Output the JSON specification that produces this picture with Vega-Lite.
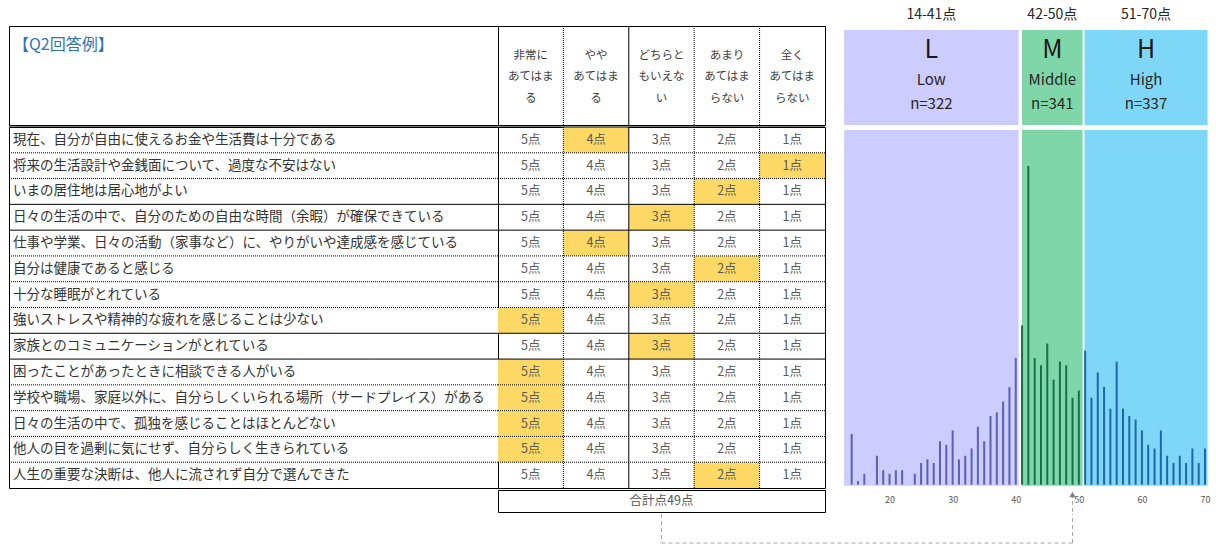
{
  "$schema": "https://vega.github.io/schema/vega-lite/v6.json",
  "description": "Q2 answer example table with the score distribution of all respondents (L / M / H groups).",
  "padding": {"left": 8, "top": 8, "right": 0, "bottom": 0},
  "spacing": 0,
  "config": {"view": {"stroke": null}, "font": "Noto Sans CJK JP"},
  "datasets": {
    "questions": [
      {"q": 1, "section": 1, "answer": 4, "text": "現在、自分が自由に使えるお金や生活費は十分である"},
      {"q": 2, "section": 1, "answer": 1, "text": "将来の生活設計や金銭面について、過度な不安はない"},
      {"q": 3, "section": 1, "answer": 2, "text": "いまの居住地は居心地がよい"},
      {"q": 4, "section": 2, "answer": 3, "text": "日々の生活の中で、自分のための自由な時間（余暇）が確保できている"},
      {"q": 5, "section": 3, "answer": 4, "text": "仕事や学業、日々の活動（家事など）に、やりがいや達成感を感じている"},
      {"q": 6, "section": 3, "answer": 2, "text": "自分は健康であると感じる"},
      {"q": 7, "section": 3, "answer": 3, "text": "十分な睡眠がとれている"},
      {"q": 8, "section": 3, "answer": 5, "text": "強いストレスや精神的な疲れを感じることは少ない"},
      {"q": 9, "section": 4, "answer": 3, "text": "家族とのコミュニケーションがとれている"},
      {"q": 10, "section": 5, "answer": 5, "text": "困ったことがあったときに相談できる人がいる"},
      {"q": 11, "section": 5, "answer": 5, "text": "学校や職場、家庭以外に、自分らしくいられる場所（サードプレイス）がある"},
      {"q": 12, "section": 5, "answer": 5, "text": "日々の生活の中で、孤独を感じることはほとんどない"},
      {"q": 13, "section": 5, "answer": 5, "text": "他人の目を過剰に気にせず、自分らしく生きられている"},
      {"q": 14, "section": 5, "answer": 2, "text": "人生の重要な決断は、他人に流されず自分で選んできた"}
    ],
    "choices": [
      {"s": 5, "label": "非常に\nあてはま\nる"},
      {"s": 4, "label": "やや\nあてはま\nる"},
      {"s": 3, "label": "どちらと\nもいえな\nい"},
      {"s": 2, "label": "あまり\nあてはま\nらない"},
      {"s": 1, "label": "全く\nあてはま\nらない"}
    ],
    "groups": [
      {"group": "L", "name": "Low", "range": "14-41点", "n": 322, "from": 12.8, "to": 40.45},
      {"group": "M", "name": "Middle", "range": "42-50点", "n": 341, "from": 41.0, "to": 50.6},
      {"group": "H", "name": "High", "range": "51-70点", "n": 337, "from": 50.9, "to": 70.4}
    ],
    "scores": [
      {"score": 14, "count": 14}, {"score": 15, "count": 1}, {"score": 16, "count": 3}, {"score": 17, "count": 0},
      {"score": 18, "count": 8}, {"score": 19, "count": 4}, {"score": 20, "count": 3}, {"score": 21, "count": 4},
      {"score": 22, "count": 4}, {"score": 23, "count": 0}, {"score": 24, "count": 3}, {"score": 25, "count": 6},
      {"score": 26, "count": 7}, {"score": 27, "count": 6}, {"score": 28, "count": 12}, {"score": 29, "count": 11},
      {"score": 30, "count": 15}, {"score": 31, "count": 7}, {"score": 32, "count": 8}, {"score": 33, "count": 10},
      {"score": 34, "count": 16}, {"score": 35, "count": 12}, {"score": 36, "count": 19}, {"score": 37, "count": 20},
      {"score": 38, "count": 23}, {"score": 39, "count": 27}, {"score": 40, "count": 35}, {"score": 41, "count": 44},
      {"score": 42, "count": 88}, {"score": 43, "count": 35}, {"score": 44, "count": 33}, {"score": 45, "count": 39},
      {"score": 46, "count": 29}, {"score": 47, "count": 34}, {"score": 48, "count": 33}, {"score": 49, "count": 24},
      {"score": 50, "count": 26}, {"score": 51, "count": 37}, {"score": 52, "count": 24}, {"score": 53, "count": 31},
      {"score": 54, "count": 27}, {"score": 55, "count": 21}, {"score": 56, "count": 34}, {"score": 57, "count": 21},
      {"score": 58, "count": 19}, {"score": 59, "count": 18}, {"score": 60, "count": 15}, {"score": 61, "count": 11},
      {"score": 62, "count": 10}, {"score": 63, "count": 15}, {"score": 64, "count": 8}, {"score": 65, "count": 6},
      {"score": 66, "count": 8}, {"score": 67, "count": 6}, {"score": 68, "count": 10}, {"score": 69, "count": 6},
      {"score": 70, "count": 10}
    ]
  },
  "vconcat": [
    {
      "spacing": 0,
      "bounds": "flush",
      "hconcat": [
        {
          "width": 489,
          "height": 99,
          "view": {"stroke": "#000000", "strokeWidth": 1},
          "data": {"values": [{"caption": "【Q2回答例】"}]},
          "mark": {"type": "text", "align": "left", "baseline": "middle", "dx": 4, "fontSize": 16, "color": "#2E75B6"},
          "encoding": {
            "x": {"datum": 0, "type": "quantitative", "scale": {"domain": [0, 1], "nice": false, "zero": false}, "axis": null},
            "y": {"datum": 0.808, "type": "quantitative", "scale": {"domain": [0, 1], "nice": false, "zero": false}, "axis": null},
            "text": {"field": "caption"}
          }
        },
        {
          "width": 327,
          "height": 99,
          "view": {"stroke": "#000000", "strokeWidth": 1},
          "data": {"name": "choices"},
          "layer": [
            {
              "transform": [{"filter": "datum.s < 5"}],
              "mark": {"type": "rule", "color": "#000000", "strokeWidth": 1},
              "encoding": {
                "x": {"field": "s", "type": "ordinal", "bandPosition": 0, "scale": {"type": "band", "domain": [5, 4, 3, 2, 1], "paddingInner": 0, "paddingOuter": 0}, "axis": null},
                "strokeDash": {"condition": {"test": "datum.s === 3", "value": [1, 0]}, "value": [1, 1]}
              }
            },
            {
              "mark": {"type": "text", "baseline": "middle", "fontSize": 11.5, "lineHeight": 21.7, "lineBreak": "\n", "color": "#404040"},
              "encoding": {
                "x": {"field": "s", "type": "ordinal", "scale": {"type": "band", "domain": [5, 4, 3, 2, 1], "paddingInner": 0, "paddingOuter": 0}, "axis": null},
                "y": {"datum": 0.702, "type": "quantitative", "scale": {"domain": [0, 1], "nice": false, "zero": false}, "axis": null},
                "text": {"field": "label"}
              }
            }
          ]
        },
        {
          "width": 392,
          "height": 99,
          "data": {"name": "groups"},
          "transform": [
            {"calculate": "(datum.from + datum.to) / 2", "as": "mid"},
            {"calculate": "'n=' + datum.n", "as": "nLabel"}
          ],
          "layer": [
            {
              "mark": {"type": "rect"},
              "encoding": {
                "x": {"field": "from", "type": "quantitative", "scale": {"domain": [9.77, 71.9], "nice": false, "zero": false}, "axis": null},
                "x2": {"field": "to"},
                "y": {"datum": 0, "type": "quantitative", "scale": {"domain": [0, 1], "nice": false, "zero": false}, "axis": null},
                "y2": {"datum": 0.96},
                "color": {"field": "group", "type": "nominal", "scale": {"domain": ["L", "M", "H"], "range": ["#CCCCFF", "#7FD6A8", "#7FD7F7"]}, "legend": null}
              }
            },
            {
              "mark": {"type": "text", "baseline": "middle", "fontSize": 25, "color": "#1A1A1A"},
              "encoding": {
                "x": {"field": "mid", "type": "quantitative", "scale": {"domain": [9.77, 71.9], "nice": false, "zero": false}, "axis": null},
                "y": {"datum": 0.758, "type": "quantitative", "scale": {"domain": [0, 1], "nice": false, "zero": false}, "axis": null},
                "text": {"field": "group"}
              }
            },
            {
              "mark": {"type": "text", "baseline": "middle", "fontSize": 15, "color": "#262626"},
              "encoding": {
                "x": {"field": "mid", "type": "quantitative", "scale": {"domain": [9.77, 71.9], "nice": false, "zero": false}, "axis": null},
                "y": {"datum": 0.455, "type": "quantitative", "scale": {"domain": [0, 1], "nice": false, "zero": false}, "axis": null},
                "text": {"field": "name"}
              }
            },
            {
              "mark": {"type": "text", "baseline": "middle", "fontSize": 15, "color": "#262626"},
              "encoding": {
                "x": {"field": "mid", "type": "quantitative", "scale": {"domain": [9.77, 71.9], "nice": false, "zero": false}, "axis": null},
                "y": {"datum": 0.212, "type": "quantitative", "scale": {"domain": [0, 1], "nice": false, "zero": false}, "axis": null},
                "text": {"field": "nLabel"}
              }
            },
            {
              "mark": {"type": "text", "baseline": "middle", "fontSize": 14, "color": "#262626"},
              "encoding": {
                "x": {"field": "mid", "type": "quantitative", "scale": {"domain": [9.77, 71.9], "nice": false, "zero": false}, "axis": null},
                "y": {"datum": 1.111, "type": "quantitative", "scale": {"domain": [0, 1], "nice": false, "zero": false}, "axis": null},
                "text": {"field": "range"}
              }
            }
          ]
        }
      ]
    },
    {
      "spacing": 0,
      "bounds": "flush",
      "hconcat": [
        {
          "width": 489,
          "height": 361,
          "view": {"stroke": "#000000", "strokeWidth": 1},
          "data": {"name": "questions"},
          "layer": [
            {
              "transform": [{"window": [{"op": "row_number", "as": "k"}], "groupby": ["section"], "sort": [{"field": "q"}]}],
              "mark": {"type": "rule", "color": "#000000", "strokeWidth": 1},
              "encoding": {
                "y": {"field": "q", "type": "ordinal", "bandPosition": 0, "scale": {"type": "band", "domain": [1, 2, 3, 4, 5, 6, 7, 8, 9, 10, 11, 12, 13, 14], "paddingInner": 0, "paddingOuter": 0}, "axis": null},
                "strokeDash": {"condition": {"test": "datum.k === 1", "value": [1, 0]}, "value": [1, 1]}
              }
            },
            {
              "mark": {"type": "text", "align": "left", "baseline": "middle", "dx": 4, "fontSize": 13.5, "color": "#333333"},
              "encoding": {
                "x": {"datum": 0, "type": "quantitative", "scale": {"domain": [0, 1], "nice": false, "zero": false}, "axis": null},
                "y": {"field": "q", "type": "ordinal", "scale": {"type": "band", "domain": [1, 2, 3, 4, 5, 6, 7, 8, 9, 10, 11, 12, 13, 14], "paddingInner": 0, "paddingOuter": 0}, "axis": null},
                "text": {"field": "text"}
              }
            }
          ]
        },
        {
          "width": 327,
          "height": 361,
          "view": {"stroke": "#000000", "strokeWidth": 1},
          "data": {"name": "questions"},
          "layer": [
            {
              "mark": {"type": "rect", "color": "#FFD966"},
              "encoding": {
                "x": {"field": "answer", "type": "ordinal", "scale": {"type": "band", "domain": [5, 4, 3, 2, 1], "paddingInner": 0, "paddingOuter": 0}, "axis": null},
                "y": {"field": "q", "type": "ordinal", "scale": {"type": "band", "domain": [1, 2, 3, 4, 5, 6, 7, 8, 9, 10, 11, 12, 13, 14], "paddingInner": 0, "paddingOuter": 0}, "axis": null}
              }
            },
            {
              "transform": [{"window": [{"op": "row_number", "as": "k"}], "groupby": ["section"], "sort": [{"field": "q"}]}],
              "mark": {"type": "rule", "color": "#000000", "strokeWidth": 1},
              "encoding": {
                "y": {"field": "q", "type": "ordinal", "bandPosition": 0, "scale": {"type": "band", "domain": [1, 2, 3, 4, 5, 6, 7, 8, 9, 10, 11, 12, 13, 14], "paddingInner": 0, "paddingOuter": 0}, "axis": null},
                "strokeDash": {"condition": {"test": "datum.k === 1", "value": [1, 0]}, "value": [1, 1]}
              }
            },
            {
              "data": {"name": "choices"},
              "transform": [{"filter": "datum.s < 5"}],
              "mark": {"type": "rule", "color": "#000000", "strokeWidth": 1},
              "encoding": {
                "x": {"field": "s", "type": "ordinal", "bandPosition": 0, "scale": {"type": "band", "domain": [5, 4, 3, 2, 1], "paddingInner": 0, "paddingOuter": 0}, "axis": null},
                "strokeDash": {"condition": {"test": "datum.s === 3", "value": [1, 0]}, "value": [1, 1]}
              }
            },
            {
              "transform": [
                {"calculate": "datum.answer", "as": "s"},
                {"calculate": "1", "as": "hit"},
                {"impute": "hit", "key": "s", "keyvals": [5, 4, 3, 2, 1], "groupby": ["q"], "value": 0},
                {"calculate": "datum.s + '点'", "as": "cell"}
              ],
              "mark": {"type": "text", "baseline": "middle", "fontSize": 12.5, "color": "#595959"},
              "encoding": {
                "x": {"field": "s", "type": "ordinal", "scale": {"type": "band", "domain": [5, 4, 3, 2, 1], "paddingInner": 0, "paddingOuter": 0}, "axis": null},
                "y": {"field": "q", "type": "ordinal", "scale": {"type": "band", "domain": [1, 2, 3, 4, 5, 6, 7, 8, 9, 10, 11, 12, 13, 14], "paddingInner": 0, "paddingOuter": 0}, "axis": null},
                "text": {"field": "cell"}
              }
            }
          ]
        },
        {
          "width": 392,
          "height": 361,
          "layer": [
            {
              "data": {"name": "groups"},
              "mark": {"type": "rect"},
              "encoding": {
                "x": {"field": "from", "type": "quantitative", "scale": {"domain": [9.77, 71.9], "nice": false, "zero": false}, "axis": null},
                "x2": {"field": "to"},
                "y": {"datum": -0.3, "type": "quantitative", "scale": {"domain": [-0.91, 98.8], "nice": false, "zero": false}, "axis": null},
                "y2": {"datum": 98},
                "color": {"field": "group", "type": "nominal", "scale": {"domain": ["L", "M", "H"], "range": ["#CCCCFF", "#7FD6A8", "#7FD7F7"]}, "legend": null}
              }
            },
            {
              "data": {"name": "scores"},
              "mark": {"type": "rule", "strokeWidth": 2},
              "encoding": {
                "x": {"field": "score", "type": "quantitative", "scale": {"domain": [9.77, 71.9], "nice": false, "zero": false}, "axis": null},
                "y": {"field": "count", "type": "quantitative", "scale": {"domain": [-0.91, 98.8], "nice": false, "zero": false}, "axis": null},
                "y2": {"datum": 0},
                "stroke": {"field": "score", "type": "quantitative", "scale": {"type": "threshold", "domain": [40.5, 50.7], "range": ["#5B5FB5", "#18704A", "#1D66AB"]}, "legend": null}
              }
            }
          ]
        }
      ]
    },
    {
      "spacing": 0,
      "bounds": "flush",
      "hconcat": [
        {
          "width": 489,
          "height": 22,
          "data": {"values": [{}]},
          "mark": {"type": "text", "text": ""},
          "encoding": {}
        },
        {
          "width": 327,
          "height": 22,
          "view": {"stroke": "#000000", "strokeWidth": 1},
          "data": {"name": "questions"},
          "transform": [
            {"aggregate": [{"op": "sum", "field": "answer", "as": "total"}]},
            {"calculate": "'合計点' + datum.total + '点'", "as": "label"}
          ],
          "mark": {"type": "text", "baseline": "middle", "fontSize": 12.5, "color": "#595959"},
          "encoding": {
            "x": {"datum": 0.5, "type": "quantitative", "scale": {"domain": [0, 1], "nice": false, "zero": false}, "axis": null},
            "y": {"datum": 0.5, "type": "quantitative", "scale": {"domain": [0, 1], "nice": false, "zero": false}, "axis": null},
            "text": {"field": "label"}
          }
        },
        {
          "width": 392,
          "height": 22,
          "data": {"name": "questions"},
          "transform": [{"aggregate": [{"op": "sum", "field": "answer", "as": "total"}]}],
          "layer": [
            {
              "mark": {"type": "rule", "color": "#A6A6A6", "strokeDash": [4, 3], "strokeWidth": 1},
              "encoding": {
                "x": {"field": "total", "type": "quantitative", "scale": {"domain": [9.77, 71.9], "nice": false, "zero": false}, "axis": {"values": [20, 30, 40, 50, 60, 70], "orient": "bottom", "offset": -22, "domain": false, "ticks": false, "grid": false, "labelFontSize": 9, "labelColor": "#595959", "labelPadding": 5, "title": null}},
                "y": {"datum": 0, "type": "quantitative", "scale": {"domain": [0, 1], "nice": false, "zero": false}, "axis": null},
                "y2": {"datum": 0.8}
              }
            },
            {
              "mark": {"type": "point", "shape": "triangle-up", "filled": true, "size": 40, "color": "#808080", "opacity": 1},
              "encoding": {
                "x": {"field": "total", "type": "quantitative", "scale": {"domain": [9.77, 71.9], "nice": false, "zero": false}, "axis": {"values": [20, 30, 40, 50, 60, 70], "orient": "bottom", "offset": -22, "domain": false, "ticks": false, "grid": false, "labelFontSize": 9, "labelColor": "#595959", "labelPadding": 5, "title": null}},
                "y": {"datum": 0.8, "type": "quantitative", "scale": {"domain": [0, 1], "nice": false, "zero": false}, "axis": null}
              }
            }
          ]
        }
      ]
    },
    {
      "spacing": 0,
      "bounds": "flush",
      "hconcat": [
        {
          "width": 489,
          "height": 44,
          "data": {"values": [{}]},
          "mark": {"type": "text", "text": ""},
          "encoding": {}
        },
        {
          "width": 327,
          "height": 44,
          "data": {"values": [{}]},
          "layer": [
            {
              "mark": {"type": "rule", "color": "#A6A6A6", "strokeDash": [4, 3], "strokeWidth": 1},
              "encoding": {
                "x": {"datum": 0.5, "type": "quantitative", "scale": {"domain": [0, 1], "nice": false, "zero": false}, "axis": null},
                "y": {"datum": 1, "type": "quantitative", "scale": {"domain": [0, 1], "nice": false, "zero": false}, "axis": null},
                "y2": {"datum": 0.34}
              }
            },
            {
              "mark": {"type": "rule", "color": "#A6A6A6", "strokeDash": [4, 3], "strokeWidth": 1},
              "encoding": {
                "x": {"datum": 0.5, "type": "quantitative", "scale": {"domain": [0, 1], "nice": false, "zero": false}, "axis": null},
                "x2": {"datum": 1},
                "y": {"datum": 0.34, "type": "quantitative", "scale": {"domain": [0, 1], "nice": false, "zero": false}, "axis": null}
              }
            }
          ]
        },
        {
          "width": 392,
          "height": 44,
          "data": {"name": "questions"},
          "transform": [{"aggregate": [{"op": "sum", "field": "answer", "as": "total"}]}],
          "layer": [
            {
              "mark": {"type": "rule", "color": "#A6A6A6", "strokeDash": [4, 3], "strokeWidth": 1},
              "encoding": {
                "x": {"field": "total", "type": "quantitative", "scale": {"domain": [9.77, 71.9], "nice": false, "zero": false}, "axis": null},
                "x2": {"datum": 9.77},
                "y": {"datum": 0.34, "type": "quantitative", "scale": {"domain": [0, 1], "nice": false, "zero": false}, "axis": null}
              }
            },
            {
              "mark": {"type": "rule", "color": "#A6A6A6", "strokeDash": [4, 3], "strokeWidth": 1},
              "encoding": {
                "x": {"field": "total", "type": "quantitative", "scale": {"domain": [9.77, 71.9], "nice": false, "zero": false}, "axis": null},
                "y": {"datum": 0.34, "type": "quantitative", "scale": {"domain": [0, 1], "nice": false, "zero": false}, "axis": null},
                "y2": {"datum": 1}
              }
            }
          ]
        }
      ]
    }
  ]
}
